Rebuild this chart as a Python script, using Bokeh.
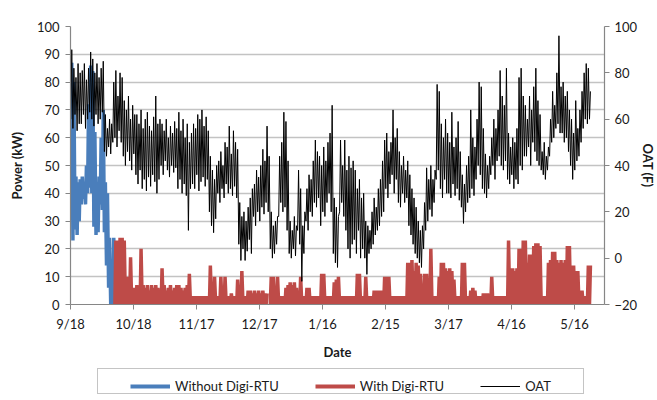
import math
from bokeh.plotting import figure
from bokeh.layouts import column
from bokeh.models import Range1d, LinearAxis, FixedTicker, Legend, LegendItem
from bokeh.embed import file_html
from bokeh.resources import INLINE

# ---------------- data ----------------
X_TICK_DAYS = [0, 30, 60, 90, 120, 150, 180, 210, 240]
X_TICK_LABELS = ["9/18", "10/18", "11/17", "12/17", "1/16", "2/15", "3/17", "4/16", "5/16"]
POWER_TICKS = [0, 10, 20, 30, 40, 50, 60, 70, 80, 90, 100]
OAT_TICKS = [-20, 0, 20, 40, 60, 80, 100]

# Outside air temperature (F): daily high / low, day 0 = 9/18
OAT_HI = [90, 82, 78, 84, 80, 81, 84, 77, 82, 89,
          86, 80, 84, 78, 82, 85, 62, 56, 60, 58,
          76, 81, 70, 80, 78, 68, 64, 70, 60, 66,
          62, 62, 58, 64, 56, 60, 63, 57, 55, 61,
          70, 58, 60, 58, 55, 60, 52, 57, 54, 59,
          56, 63, 55, 60, 52, 58, 50, 54, 58, 56,
          62, 60, 64, 57, 61, 55, 44, 38, 34, 40,
          42, 46, 40, 50, 48, 57, 45, 55, 50, 47,
          24, 18, 20, 16, 22, 26, 30, 32, 38, 35,
          40, 47, 42, 57, 44, 20, 14, 16, 18, 44,
          50, 63, 59, 42, 16, 12, 18, 14, 38, 30,
          14, 20, 30, 36, 34, 42, 51, 46, 44, 40,
          48, 42, 50, 54, 66, 26, 22, 18, 51, 40,
          51, 38, 44, 39, 42, 38, 30, 34, 26, 28,
          16, 14, 12, 20, 26, 22, 30, 34, 42, 51,
          54, 46, 50, 64, 52, 56, 46, 40, 44, 38,
          42, 36, 30, 26, 22, 16, 12, 14, 24, 39,
          34, 40, 34, 38, 75, 72, 58, 52, 60, 54,
          50, 63, 48, 52, 59, 46, 36, 32, 40, 44,
          64, 52, 48, 60, 76, 74, 56, 45, 40, 44,
          52, 60, 56, 64, 81, 70, 66, 82, 54, 48,
          52, 50, 56, 78, 82, 70, 66, 60, 70, 64,
          74, 82, 68, 62, 46, 50, 44, 48, 60, 72,
          66, 80, 96, 74, 76, 70, 72, 64, 60, 54,
          68, 56, 64, 72, 80, 84, 82, 72]
OAT_LO = [60, 56, 62, 55, 58, 58, 62, 56, 60, 63,
          60, 57, 62, 58, 60, 63, 46, 44, 48, 45,
          50, 52, 48, 55, 50, 44, 40, 46, 42, 38,
          45, 36, 32, 38, 30, 34, 29, 35, 31, 36,
          33, 28, 34, 40, 36, 42, 38, 35, 40, 37,
          39, 30, 34, 28, 32, 27, 12, 30, 32, 30,
          36, 29, 33, 35, 31, 34, 20, 14, 11, 17,
          28, 24, 30, 26, 32, 28, 30, 27, 31, 26,
          6, -1, 4, -1, 3, 8, 2, 18, 14, 20,
          16, 22, 19, 24, 20, 4, 0, 2, 6, 18,
          24, 20, 22, 12, 2, 0, 4, 1, 12, 6,
          -10, 2, 16, 12, 20, 18, 24, 22, 26, 14,
          20, 18, 24, 28, 20, 2, -2, -4, 20, 24,
          18, 12, 4, 0, 6, 8, 2, 12, 0, 4,
          0, -7, 2, 4, 6, 10, 12, 14, 18, 20,
          30, 26, 32, 36, 28, 34, 24, 22, 28, 24,
          26, 14, 10, 6, 2, 0, -2, -4, 4, 12,
          16, 21, 18, 24, 34, 38, 30, 26, 34, 28,
          28, 26, 32, 27, 30, 25, 22, 15, 20, 24,
          26, 30, 27, 34, 40, 36, 30, 28, 26, 30,
          36, 40, 34, 42, 44, 40, 38, 42, 34, 32,
          36, 30, 34, 32, 40, 38, 44, 44, 48, 40,
          50, 46, 42, 40, 38, 36, 34, 38, 44, 50,
          52, 56, 58, 54, 54, 50, 52, 46, 40, 34,
          38, 42, 44, 50, 56, 60, 58, 60]

# Power without Digi-RTU (kW): daily high / low, from day 0
BLUE_START = 0
BLUE_HI = [87, 80, 46, 44, 45, 46, 44, 50, 72, 86, 84, 62, 44, 46, 60, 70, 44, 40, 24, 12, 24, 10]
BLUE_LO = [55, 23, 27, 25, 30, 36, 38, 36, 40, 42, 40, 28, 25, 26, 36, 34, 26, 14, 6, 0, 0, 0]

# Power with Digi-RTU (kW): daily peak, from day 21 (None = no data)
RED_START = 21
RED_FLOOR = 0
RED_HI = [23, 23, 24, 24, 23, 3, 10, 17, 3, 6,
          7, 6, 20, 7, 6, 7, 5, 7, 6, 7,
          6, 3, 13, 7, 5, 6, 7, 5, 6, 7,
          7, 6, 5, 6, 7, 11, 3, 3, 3, 3,
          3, 3, 3, 3, 3, 14, 3, 10, 3, 3,
          10, 3, 10, 3, 3, 4, 3, 3, 9, 3,
          12, 3, 3, 5, 5, 4, 5, 4, 5, 4,
          5, 4, 4, None, 10, 10, 3, 10, 3, 3,
          3, 6, 7, 8, 7, 8, 6, 3, 10, 3,
          3, 6, 6, 3, 3, 3, 3, 3, 11, 11,
          3, 3, 3, 3, 8, 9, 10, 3, 3, 3,
          3, 3, 3, 3, 3, 11, 11, 3, 3, 10,
          3, 3, 3, 5, 5, 5, 5, 5, 10, 10,
          10, 3, 3, 3, 3, 3, 3, 3, 3, 15,
          15, 16, 12, 15, 14, 11, 3, 11, 11, 3,
          20, 3, 3, 3, 10, 15, 15, 13, 12, 13,
          12, 9, 3, 3, 3, 15, 15, 3, 3, 5,
          6, 5, 3, 3, 3, 4, 4, 4, 3, 10,
          3, 3, 3, 3, 3, 3, 3, 23, 13, 13,
          12, 13, 20, 20, 23, 23, 15, 18, 18, 21,
          22, 22, 21, 3, 3, 3, 15, 16, 19, 19,
          16, 15, 16, 15, 16, 21, 21, 14, 14, 12,
          12, 5, 5, 3, 3, 14, 14]


def daily_path(start, lows, highs):
    xs, ys = [], []
    for i, (lo, hi) in enumerate(zip(lows, highs)):
        d = start + i
        xs += [d + 0.15, d + 0.6]
        if hi is None:
            ys += [math.nan, math.nan]
        else:
            ys += [lo, hi]
    return xs, ys


oat_x, oat_y = daily_path(0, OAT_LO, OAT_HI)
blue_x, blue_y = daily_path(BLUE_START, BLUE_LO, BLUE_HI)
red_x, red_y = daily_path(RED_START, [RED_FLOOR] * len(RED_HI), RED_HI)

# ---------------- main figure ----------------
FONT = "Lato"
TXT = "#1a1a1a"
AXC = "#868686"
BLUE = "#4a7ebb"
RED = "#be4b48"

p = figure(frame_width=534, frame_height=278, output_backend="svg", toolbar_location=None,
           x_range=Range1d(0, 254.3), y_range=Range1d(0, 100),
           min_border_left=70, min_border_right=52, min_border_top=26, min_border_bottom=64)
p.outline_line_color = None
p.background_fill_color = "white"
p.border_fill_color = "white"
p.extra_y_ranges = {"oat": Range1d(-20, 100)}

p.xgrid.visible = False
p.ygrid.ticker = FixedTicker(ticks=POWER_TICKS)
p.ygrid.grid_line_color = "#c3c3c3"
p.ygrid.grid_line_width = 1.3

xa = p.xaxis[0]
xa.ticker = FixedTicker(ticks=X_TICK_DAYS)
xa.major_label_overrides = {d: lab for d, lab in zip(X_TICK_DAYS, X_TICK_LABELS)}
xa.axis_label = "Date"

ya = p.yaxis[0]
ya.ticker = FixedTicker(ticks=POWER_TICKS)
ya.axis_label = "Power (kW)"

ra = LinearAxis(y_range_name="oat", ticker=FixedTicker(ticks=OAT_TICKS), axis_label="OAT (F)")
p.add_layout(ra, "right")

for ax in (xa, ya, ra):
    ax.axis_line_color = AXC
    ax.axis_line_width = 1.2
    ax.major_tick_line_color = AXC
    ax.major_tick_out = 5
    ax.major_tick_in = 0
    ax.minor_tick_line_color = None
    ax.major_label_text_font = FONT
    ax.major_label_text_font_size = "13px"
    ax.major_label_text_color = TXT
    ax.axis_label_text_font = FONT
    ax.axis_label_text_font_size = "13px"
    ax.axis_label_text_font_style = "bold"
    ax.axis_label_text_color = TXT

xa.major_label_standoff = 6
xa.axis_label_standoff = 9
ya.major_label_standoff = 6
ya.axis_label_standoff = 9
ra.major_label_standoff = 5
ra.axis_label_standoff = 0

r_blue = p.line(blue_x, blue_y, line_color=BLUE, line_width=3.5)
r_red = p.line(red_x, red_y, line_color=RED, line_width=3.5)
r_oat = p.line(oat_x, oat_y, line_color="black", line_width=1, y_range_name="oat")

# ---------------- legend strip ----------------
lg = figure(width=657, height=28, output_backend="svg", toolbar_location=None,
            x_range=Range1d(0, 1), y_range=Range1d(0, 1),
            x_axis_location=None, y_axis_location=None,
            min_border_left=0, min_border_right=0, min_border_top=0, min_border_bottom=0)
lg.grid.visible = False
lg.outline_line_color = None
lg.background_fill_color = "white"
lg.border_fill_color = "white"

# legend sample renderers (their points lie outside the strip's visible range)
d_box = lg.line([5, 6], [5, 6], line_alpha=0)
d_blue = lg.line([5, 6], [5, 6], line_color=BLUE, line_width=4)
d_red = lg.line([5, 6], [5, 6], line_color=RED, line_width=4)
d_oat = lg.line([5, 6], [5, 6], line_color="black", line_width=1)

box = Legend(items=[LegendItem(label=" ", renderers=[d_box])], location=(27, 2),
             orientation="horizontal", glyph_width=1, glyph_height=16, label_height=16,
             label_width=476, label_standoff=0, padding=4, margin=0,
             border_line_color="#8a8a8a", border_line_width=1.2,
             background_fill_color="white", background_fill_alpha=1,
             label_text_font_size="13px")
leg = Legend(items=[LegendItem(label="Without Digi-RTU", renderers=[d_blue]),
                    LegendItem(label="With Digi-RTU", renderers=[d_red]),
                    LegendItem(label="OAT", renderers=[d_oat])],
             location=(60, 2), orientation="horizontal",
             glyph_width=40, glyph_height=16, label_height=16, label_standoff=5,
             spacing=36, padding=4, margin=0,
             border_line_color=None, background_fill_alpha=0,
             label_text_font=FONT, label_text_font_size="13px", label_text_color=TXT)
lg.add_layout(box, "center")
lg.add_layout(leg, "center")

layout = column(p, lg, spacing=0)
open("out.html", "w").write(file_html(layout, INLINE))
